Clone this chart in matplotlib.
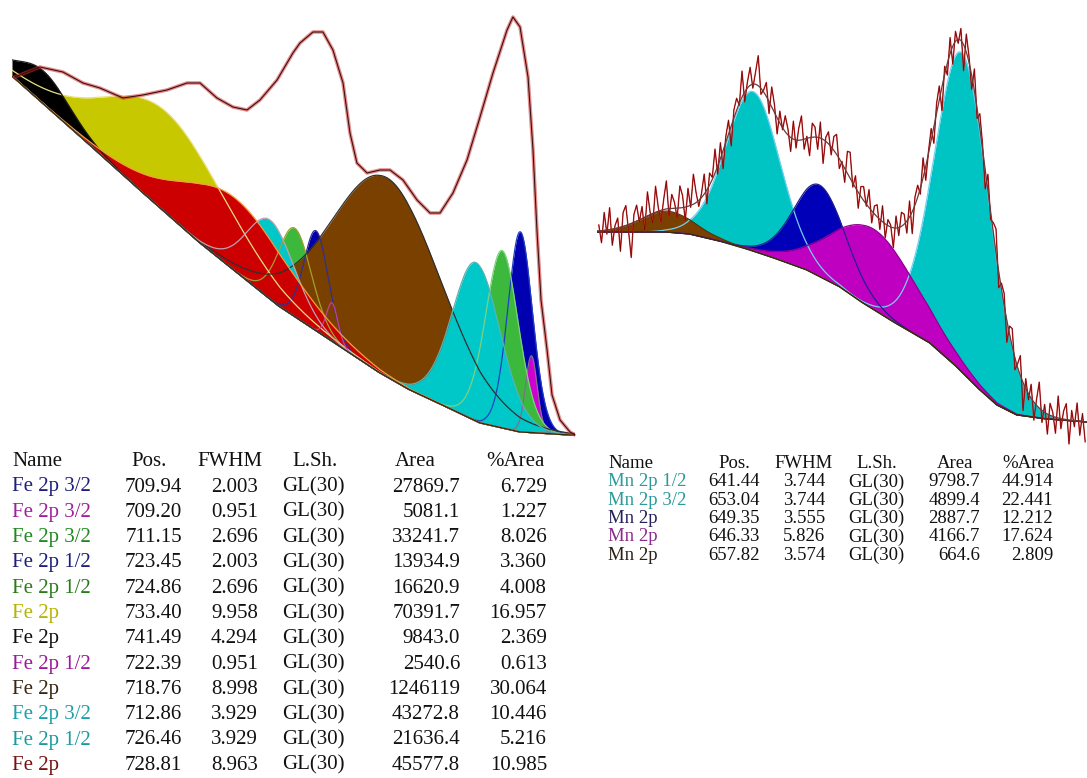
import numpy as np
import matplotlib
matplotlib.use('Agg')
import matplotlib.pyplot as plt

# ---------------- Fe 2p fit (left) ----------------
fe_names = ['Fe 2p 3/2', 'Fe 2p 3/2', 'Fe 2p 3/2', 'Fe 2p 1/2', 'Fe 2p 1/2', 'Fe 2p',
            'Fe 2p', 'Fe 2p 1/2', 'Fe 2p', 'Fe 2p 3/2', 'Fe 2p 1/2', 'Fe 2p']
fe_pos = [709.94, 709.20, 711.15, 723.45, 724.86, 733.40, 741.49, 722.39, 718.76, 712.86, 726.46, 728.81]
fe_fwhm = [2.003, 0.951, 2.696, 2.003, 2.696, 9.958, 4.294, 0.951, 8.998, 3.929, 3.929, 8.963]
fe_lsh = ['GL(30)'] * 12
fe_area = ['27869.7', '5081.1', '33241.7', '13934.9', '16620.9', '70391.7', '9843.0',
           '2540.6', '1246119', '43272.8', '21636.4', '45577.8']
fe_pct = [6.729, 1.227, 8.026, 3.360, 4.008, 16.957, 2.369, 0.613, 30.064, 10.446, 5.216, 10.985]

fe_fill = ['#0000b0', '#d000d0', '#3cb83c', '#0000b0', '#3cb83c', '#c8c800',
           '#000000', '#d000d0', '#7a4000', '#00c8c8', '#00c8c8', '#cc0000']
fe_line = ['#2040c0', '#807090', '#80d080', '#303090', '#a0a030', '#e8e080',
           '#202020', '#c040a0', '#303030', '#60b0b0', '#c0a0b0', '#f0a040']
fe_text = ['#1f1f7a', '#a0209a', '#1f8a1f', '#1f1f7a', '#2a7a1a', '#b5b500',
           '#111111', '#9a1a9a', '#3b2410', '#1aa0a8', '#1a9aa0', '#7a1010']

fe_data_be = [743.40, 741.74, 740.22, 738.89, 737.77, 736.24, 734.92, 733.33, 732.00, 731.14,
              730.02, 728.96, 728.03, 727.17, 726.04, 724.99, 724.52, 723.66, 723.00, 722.34,
              721.67, 721.21, 720.75, 720.08, 719.22, 718.56, 717.70, 716.77, 715.91, 715.25,
              714.39, 713.46, 712.60, 711.74, 710.81, 710.42, 709.95, 709.42, 709.09, 708.83,
              708.56, 708.16, 707.83, 707.30, 706.64, 706.31]
fe_data_i = [368, 378, 373, 362, 357, 347, 350, 355, 362, 362,
             347, 338, 335, 345, 365, 392, 402, 413, 413, 395,
             362, 312, 282, 272, 275, 275, 265, 245, 232, 232,
             252, 285, 328, 372, 415, 428, 418, 368, 295, 215,
             145, 95, 50, 25, 13, 10]
# background
fe_bg_be = [743.59, 737.77, 734.46, 731.14, 729.16, 725.85, 722.53, 719.22, 717.24,
            714.39, 712.60, 709.95, 706.64, 706.31]
fe_bg_i = [369, 291, 246, 202, 178, 138, 105, 72, 55, 35, 22, 13, 10, 10]
fe_scale = 59.6  # a.u. per (%Area / FWHM)

# ---------------- Mn 2p fit (right) ----------------
mn_names = ['Mn 2p 1/2', 'Mn 2p 3/2', 'Mn 2p', 'Mn 2p', 'Mn 2p']
mn_pos = [641.44, 653.04, 649.35, 646.33, 657.82]
mn_fwhm = [3.744, 3.744, 3.555, 5.826, 3.574]
mn_lsh = ['GL(30)'] * 5
mn_area = ['9798.7', '4899.4', '2887.7', '4166.7', '664.6']
mn_pct = [44.914, 22.441, 12.212, 17.624, 2.809]
mn_fill = ['#00c4c4', '#00c4c4', '#0000b8', '#c000c0', '#7a4000']
mn_line = ['#70d0f0', '#70d0f0', '#202090', '#900090', '#603000']
mn_text = ['#2a9a9a', '#2a9a9a', '#26205a', '#8a2a8a', '#2a2015']

mn_bg_be = [661.70, 660.03, 657.81, 656.54, 654.70, 653.21, 651.71, 650.04, 648.21,
            646.94, 645.05, 643.22, 641.72, 640.44, 639.50, 638.39, 636.72, 634.50]
mn_bg_i = [213, 213, 213, 211, 203, 195, 186, 175, 158, 142, 121, 102, 78, 55, 40, 30, 26, 23]
mn_scale = 26.6

# scan from 661.6 to 634.6 eV in 0.15 eV steps; data - fit residuals
mn_resid = [6, -12, 18, -4, 22, -16, 3, 10, -24, 14, 20, -6, -34, 8, 16, -2, 12, -14, 24, 2,
            -10, 26, 4, -12, 10, 28, -8, 14, 6, -10, 22, 12, -14, 18, -2, 30, 10, -6, 4, 20,
            -14, 12, 2, 24, -8, 16, -18, 6, 14, -20, 8, 12, -2, 26, -10, 6, 18, -4, 12, 30,
            -6, 2, 14, -12, 20, 8, -16, 12, -2, 16, 6, -14, 18, -8, 12, 24, -10, 2, -18, 14,
            10, -12, 16, -24, 4, 12, -8, 14, 20, -10, 2, -14, 22, 26, -4, 12, -16, 10, 14, -2,
            18, -12, 8, 12, -10, 16, -14, 6, 2, -20, 12, -8, 14, 10, -12, 16, -22, 8, 12, -6,
            20, -14, 2, 12, -16, 10, 14, -24, 8, -12, 16, -18, 10, -4, 12, -26, 18, 6, -14, 22,
            -10, 14, 4, -20, 16, -8, 10, 24, -16, 6, 12, -22, 8, 18, -12, 4, 20, -28, 10, -6,
            14, -18, 6, 26, -12, 8, -20, 12, 4, -16, 22, -10, 8, 16, -24, 10, -6, 18, -14, 8,
            -20]
mn_scan = 661.6 - 0.15 * np.arange(len(mn_resid))


def gl(x, pos, fwhm, mix=0.3):
    u = (np.asarray(x) - pos) / fwhm
    return np.exp(-4 * np.log(2) * (1 - mix) * u ** 2) / (1 + 4 * mix * u ** 2)


def background(x, be, val):
    return np.interp(x, be[::-1], val[::-1])


def draw_fit(ax, grid, bg_be, bg_i, pos, fwhm, pct, scale, fills, lines):
    bg = background(grid, bg_be, bg_i)
    comps = []
    for p, w, a, fc in zip(pos, fwhm, pct, fills):
        c = gl(grid, p, w) * a / w * scale
        comps.append(c)
        ax.fill_between(grid, bg, bg + c, color=fc, lw=0)
    for c, lc in zip(comps, lines):
        ax.plot(grid, bg + c, color=lc, lw=0.9)
    ax.plot(grid, bg, color='#3a2a10', lw=1.0)
    return bg + np.sum(comps, axis=0)


fig = plt.figure(figsize=(10.87, 7.78), dpi=100)
W, H = 1087, 778

ax1 = fig.add_axes([12 / W, 1 - 445 / H, 563 / W, 445 / H])
ax1.set_xlim(743.59, 706.31)
ax1.set_ylim(0, 445)
ax1.axis('off')
g1 = np.linspace(706.31, 743.59, 3000)
draw_fit(ax1, g1, fe_bg_be, fe_bg_i, fe_pos, fe_fwhm, fe_pct, fe_scale, fe_fill, fe_line)
ax1.plot(fe_data_be, fe_data_i, color='#d83030', lw=2.6, alpha=0.55)
ax1.plot(fe_data_be, fe_data_i, color='#3a1010', lw=0.8)

ax2 = fig.add_axes([597 / W, 1 - 445 / H, 490 / W, 445 / H])
ax2.set_xlim(661.70, 634.50)
ax2.set_ylim(0, 445)
ax2.axis('off')
g2 = np.linspace(634.50, 661.70, 2000)
env = draw_fit(ax2, g2, mn_bg_be, mn_bg_i, mn_pos, mn_fwhm, mn_pct, mn_scale, mn_fill, mn_line)
bg_scan = background(mn_scan, mn_bg_be, mn_bg_i)
fit_scan = bg_scan + sum(gl(mn_scan, p, w) * a / w * mn_scale
                         for p, w, a in zip(mn_pos, mn_fwhm, mn_pct))
mn_data = fit_scan + np.array(mn_resid)
ax2.plot(mn_scan, mn_data, color='#d02020', lw=1.0)
ax2.plot(mn_scan, mn_data, color='#300000', lw=0.35, alpha=0.8)
ax2.plot(g2, env, color='#6a3a3a', lw=0.9)

# ---------------- tables ----------------
serif = 'Liberation Serif'


def put(x, y, s, ha='left', color='#111111', size=15):
    fig.text(x / W, 1 - y / H, s, ha=ha, va='center', color=color,
             fontsize=size, family=serif)


# left table
hy = 461
put(12, hy, 'Name')
put(149, hy, 'Pos.', ha='center')
put(230, hy, 'FWHM', ha='center')
put(315, hy, 'L.Sh.', ha='center')
put(415, hy, 'Area', ha='center')
put(515, hy, '%Area', ha='center')
for i in range(len(fe_names)):
    y = 487 + i * 25.3
    put(12, y, fe_names[i], color=fe_text[i])
    put(182, y, f'{fe_pos[i]:.2f}', ha='right')
    put(258, y, f'{fe_fwhm[i]:.3f}', ha='right')
    put(282, y, fe_lsh[i])
    put(460, y, fe_area[i], ha='right')
    put(547, y, f'{fe_pct[i]:.3f}', ha='right')

# right table
hy = 464
fs = 13.5
put(608, hy, 'Name', size=fs)
put(734, hy, 'Pos.', ha='center', size=fs)
put(804, hy, 'FWHM', ha='center', size=fs)
put(877, hy, 'L.Sh.', ha='center', size=fs)
put(955, hy, 'Area', ha='center', size=fs)
put(1028, hy, '%Area', ha='center', size=fs)
for i in range(len(mn_names)):
    y = 482 + i * 18.3
    put(608, y, mn_names[i], color=mn_text[i], size=fs)
    put(760, y, f'{mn_pos[i]:.2f}', ha='right', size=fs)
    put(825, y, f'{mn_fwhm[i]:.3f}', ha='right', size=fs)
    put(848, y, mn_lsh[i], size=fs)
    put(980, y, mn_area[i], ha='right', size=fs)
    put(1053, y, f'{mn_pct[i]:.3f}', ha='right', size=fs)

fig.savefig('out.png', dpi=100)
